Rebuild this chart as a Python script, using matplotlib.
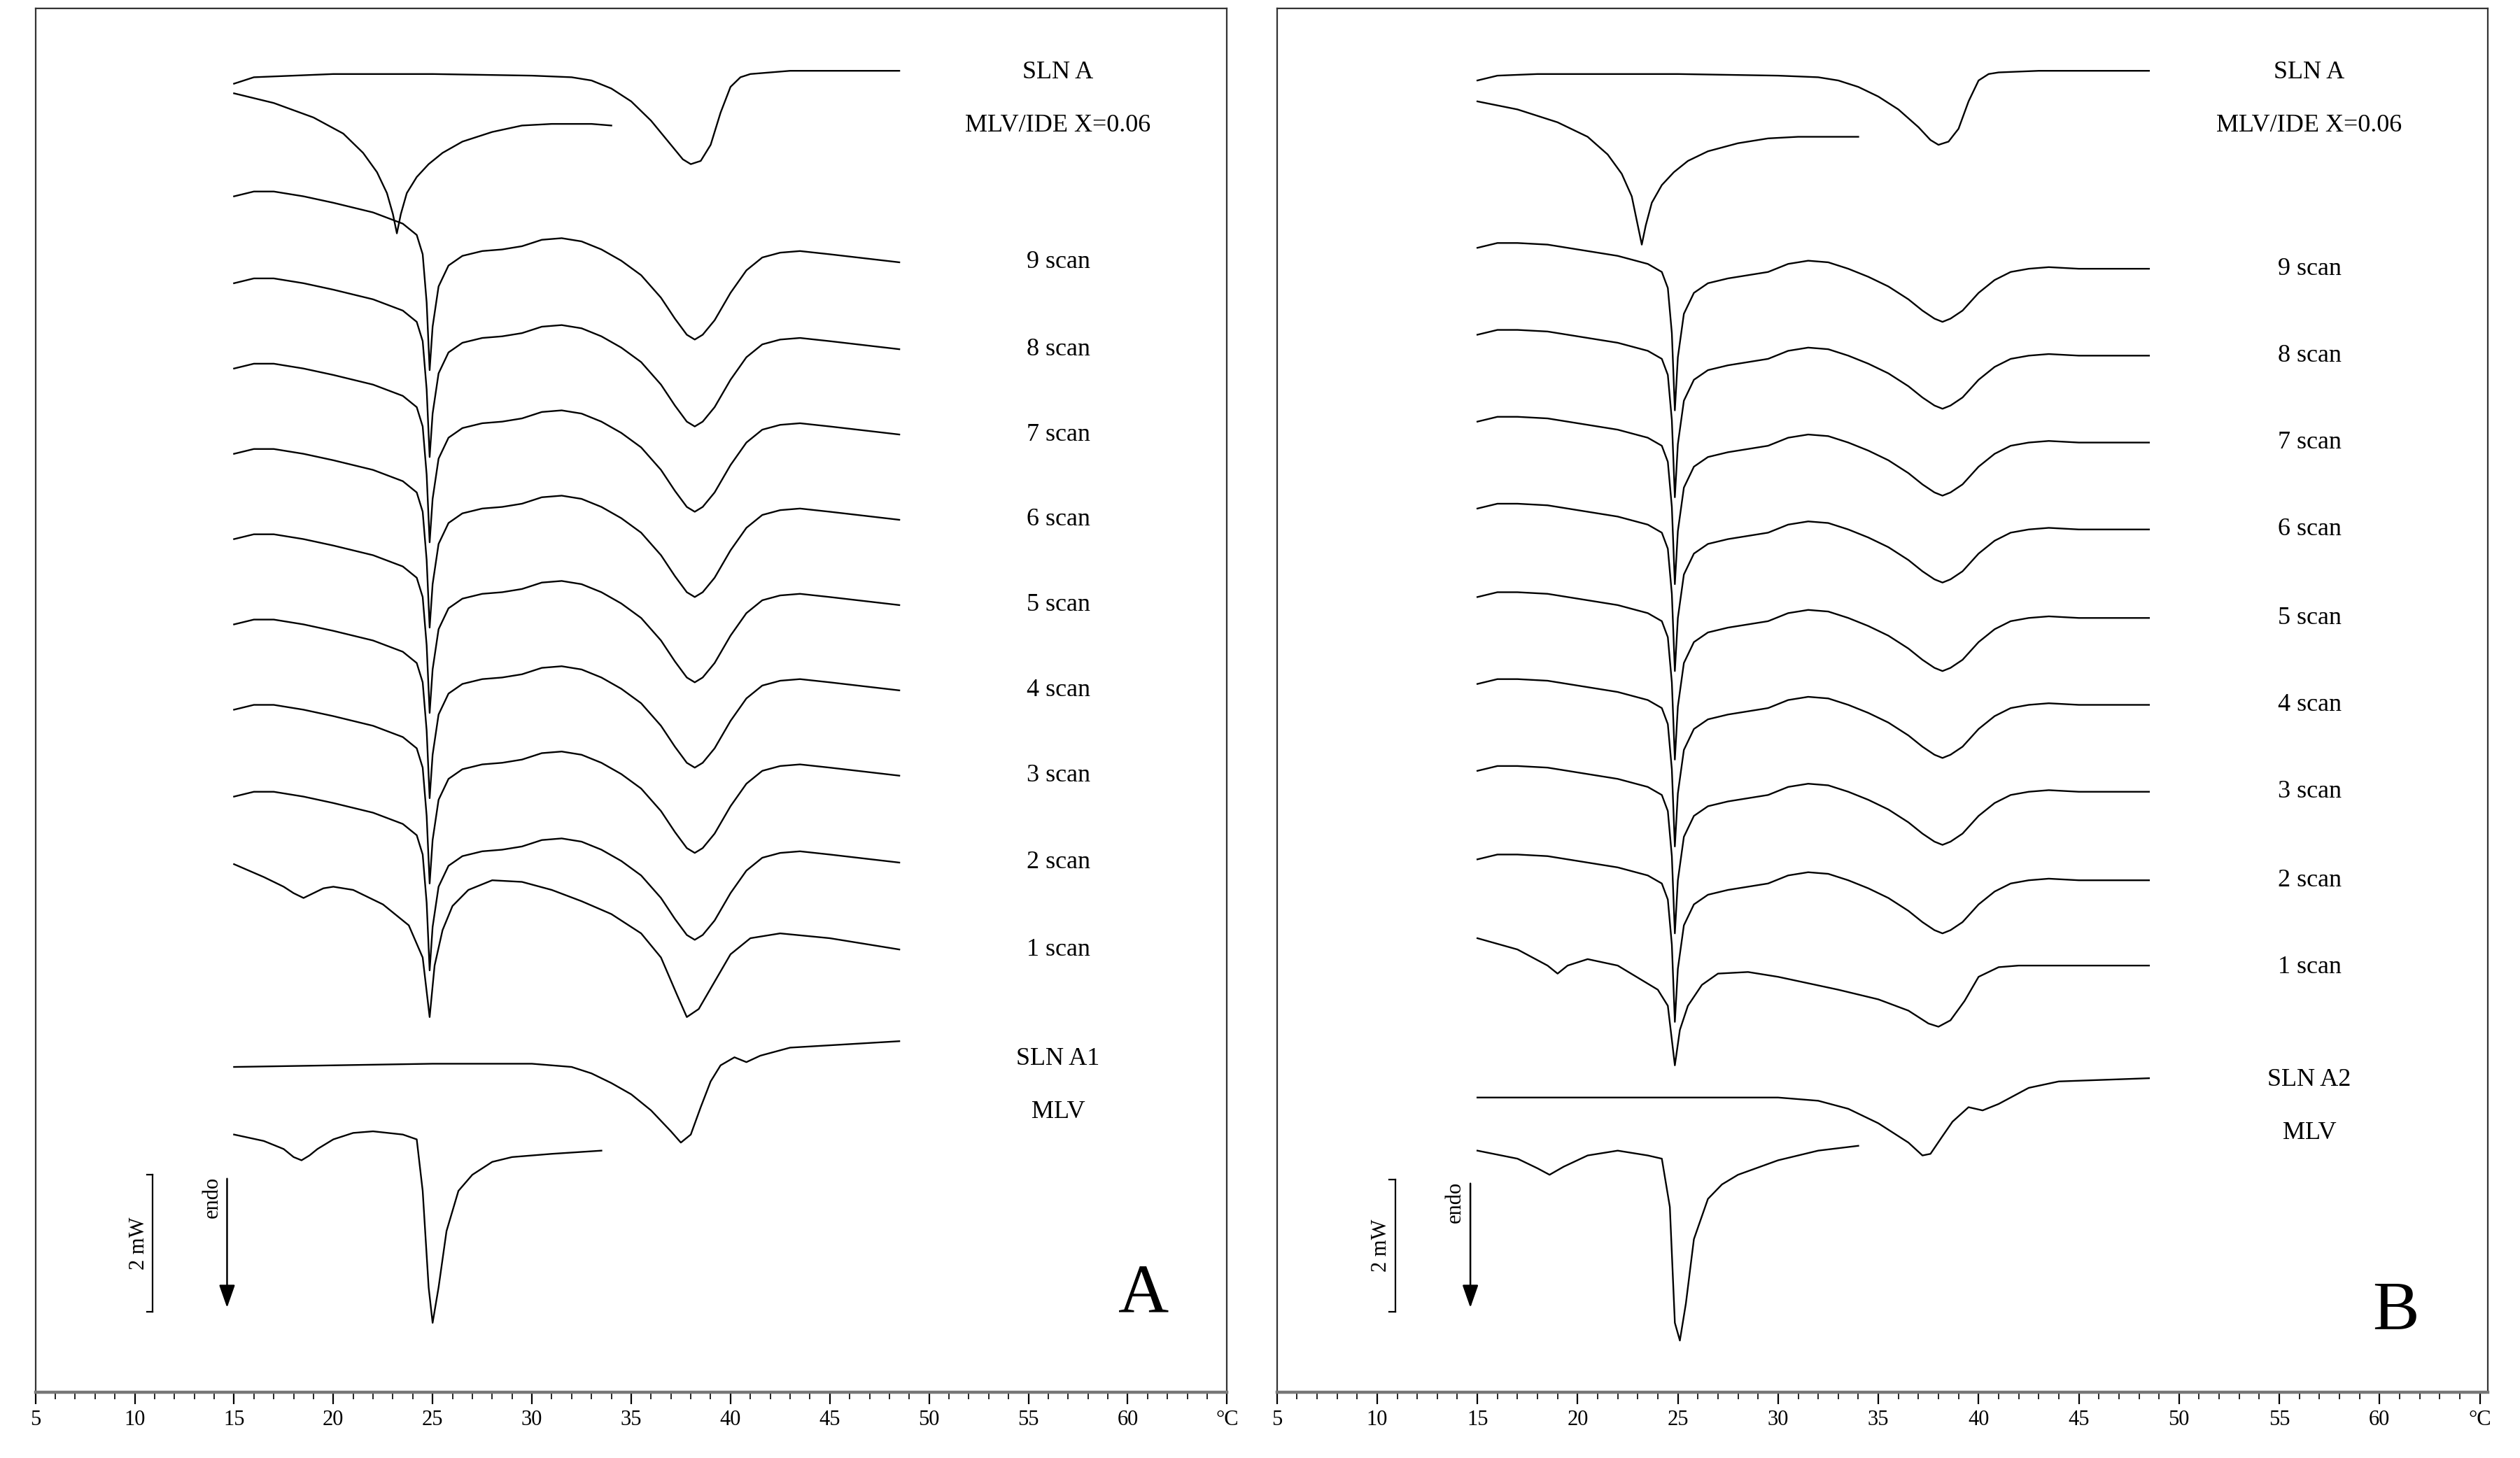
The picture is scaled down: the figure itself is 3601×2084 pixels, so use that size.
import matplotlib
matplotlib.use("Agg")
import matplotlib.pyplot as plt
import numpy as np

plt.rcParams['font.family'] = ['Liberation Serif', 'DejaVu Serif']

# ---- data (x in degC, y in picture units, increasing downward) ----
scan_x = [15, 16, 17, 18.5, 20, 22, 23.5, 24.2, 24.5, 24.7, 24.85, 25.0, 25.3, 25.8, 26.5, 27.5, 28.5, 29.5, 30.5, 31.5, 32.5, 33.5, 34.5, 35.5, 36.5, 37.2, 37.8, 38.2, 38.6, 39.2, 40, 40.8, 41.6, 42.5, 43.5, 45, 48.5]
scanA_dy = [-41, -44, -44, -41, -37, -31, -24, -17, -5, 25, 67, 40, 15, 2, -4, -7, -8, -10, -14, -15, -13, -8, -1, 8, 22, 35, 45, 48, 45, 36, 19, 5, -3, -6, -7, -5, 0]
scanB_dy = [-13, -16, -16, -15, -12, -8, -3, 2, 12, 40, 88, 55, 28, 15, 9, 6, 4, 2, -3, -5, -4, 0, 5, 11, 19, 26, 31, 33, 31, 26, 15, 7, 2, 0, -1, 0, 0]
scan_labels = ['9 scan', '8 scan', '7 scan', '6 scan', '5 scan', '4 scan', '3 scan', '2 scan']
scanA_level = [163, 217, 270, 323, 376, 429, 482, 536]
scanB_level = [167, 221, 275, 329, 384, 438, 492, 547]

# scan 1 curves
scan1A_x = [15, 16.5, 17.5, 18, 18.5, 19, 19.5, 20, 21, 22.5, 23.8, 24.5, 24.85, 25.1, 25.5, 26, 26.8, 28, 29.5, 31, 32.5, 34, 35.5, 36.5, 37.3, 37.8, 38.4, 39.2, 40, 41, 42.5, 45, 48.5]
scan1A_y = [537, 545, 551, 555, 558, 555, 552, 551, 553, 562, 575, 595, 632, 600, 578, 563, 553, 547, 548, 553, 560, 568, 580, 595, 618, 632, 627, 610, 593, 583, 580, 583, 590]
scan1B_x = [15, 17, 18.5, 19, 19.5, 20.5, 22, 24, 24.5, 24.85, 25.1, 25.5, 26.2, 27, 28.5, 30, 33, 35, 36.5, 37.5, 38, 38.6, 39.3, 40, 41, 42, 48.5]
scan1B_y = [583, 590, 600, 605, 600, 596, 600, 615, 625, 662, 640, 625, 612, 605, 604, 607, 615, 621, 628, 636, 638, 634, 622, 607, 601, 600, 600]

# top: SLN A and MLV/IDE X=0.06
slnA_x = [15, 16, 18, 20, 25, 30, 32, 33, 34, 35, 36, 37, 37.6, 38, 38.5, 39, 39.5, 40, 40.5, 41, 43, 48.5]
slnA_yA = [52, 48, 47, 46, 46, 47, 48, 50, 55, 63, 75, 90, 99, 102, 100, 90, 70, 54, 48, 46, 44, 44]
slnA_yB = [50, 47, 46, 46, 46, 47, 48, 50, 54, 60, 68, 79, 87, 90, 88, 80, 63, 50, 46, 45, 44, 44]
ide_x = [15, 17, 19, 20.5, 21.5, 22.2, 22.7, 23.0, 23.2, 23.4, 23.7, 24.2, 24.8, 25.5, 26.5, 28, 29.5, 31, 33, 34]
ide_yA = [58, 64, 73, 83, 95, 107, 120, 133, 145, 133, 120, 110, 102, 95, 88, 82, 78, 77, 77, 78]
ide_yB = [63, 68, 76, 85, 96, 108, 122, 140, 152, 140, 126, 115, 107, 100, 94, 89, 86, 85, 85, 85]

# bottom: SLN A1/A2 and MLV
slnA1_x = [15, 20, 25, 30, 32, 33, 34, 35, 36, 37, 37.5, 38, 38.5, 39, 39.5, 40.2, 40.8, 41.5, 43, 48.5]
slnA1_y = [663, 662, 661, 661, 663, 667, 673, 680, 690, 703, 710, 705, 688, 672, 662, 657, 660, 656, 651, 647]
slnA2_x = [15, 20, 25, 30, 32, 33.5, 35, 36.5, 37.2, 37.6, 38.2, 38.7, 39.5, 40.2, 41, 42.5, 44, 48.5]
slnA2_y = [682, 682, 682, 682, 684, 689, 698, 710, 718, 717, 706, 697, 688, 690, 686, 676, 672, 670]
mlvA_x = [15, 16.5, 17.5, 18, 18.4, 18.8, 19.2, 20, 21, 22, 23.5, 24.2, 24.5, 24.8, 25.0, 25.3, 25.7, 26.3, 27, 28, 29, 31, 33.5]
mlvA_y = [705, 709, 714, 719, 721, 718, 714, 708, 704, 703, 705, 708, 740, 800, 822, 800, 765, 740, 730, 722, 719, 717, 715]
mlvB_x = [15, 17, 18, 18.6, 19.3, 20.5, 22, 23.5, 24.2, 24.6, 24.85, 25.1, 25.4, 25.8, 26.5, 27.2, 28, 30, 32, 34]
mlvB_y = [715, 720, 726, 730, 725, 718, 715, 718, 720, 750, 822, 833, 810, 770, 745, 736, 730, 721, 715, 712]

ticks_major = [5, 10, 15, 20, 25, 30, 35, 40, 45, 50, 55, 60, 65]
tick_labels = ['5', '10', '15', '20', '25', '30', '35', '40', '45', '50', '55', '60', '°C']

W, H = 3601, 2084
fig = plt.figure(figsize=(W / 200, H / 200), dpi=200)
DW, DH = 1565.0, 906.0


def make_ax(x0, x1, xmax):
    ax = fig.add_axes([x0 / DW, 1 - 865 / DH, (x1 - x0) / DW, (865 - 5) / DH])
    ax.set_xlim(5, xmax)
    ax.set_ylim(865, 5)
    ax.set_yticks([])
    for s in ax.spines.values():
        s.set_linewidth(0.8)
        s.set_color('#333333')
    ax.spines['bottom'].set_linewidth(1.6)
    ax.spines['bottom'].set_color('#777777')
    ax.set_xticks(ticks_major)
    ax.set_xticklabels(tick_labels, fontsize=11)
    ax.set_xticks(np.arange(5, 66, 1), minor=True)
    ax.tick_params(axis='x', which='major', length=6, width=0.8, pad=3)
    ax.tick_params(axis='x', which='minor', length=3.5, width=0.6)
    return ax


lw = 0.85
fs = 13
axA = make_ax(22, 762, 65.0)
axB = make_ax(793, 1545, 65.4)

for ax, sdy, levels, s1x, s1y, sly, idy, slnx, slny, mx, my, bname, letter, ly in [
    (axA, scanA_dy, scanA_level, scan1A_x, scan1A_y, slnA_yA, ide_yA, slnA1_x, slnA1_y, mlvA_x, mlvA_y, 'SLN A1', 'A', 590),
    (axB, scanB_dy, scanB_level, scan1B_x, scan1B_y, slnA_yB, ide_yB, slnA2_x, slnA2_y, mlvB_x, mlvB_y, 'SLN A2', 'B', 601),
]:
    lx = 56.5
    ax.plot(slnA_x, sly, color='k', lw=lw)
    ax.plot(ide_x, idy, color='k', lw=lw)
    for lab, lev in zip(scan_labels, levels):
        ax.plot(scan_x, [lev + d for d in sdy], color='k', lw=lw)
        ax.text(lx, lev, lab, ha='center', va='center', fontsize=fs)
    ax.plot(s1x, s1y, color='k', lw=lw)
    ax.text(lx, ly, '1 scan', ha='center', va='center', fontsize=fs)
    ax.plot(slnx, slny, color='k', lw=lw)
    ax.plot(mx, my, color='k', lw=lw)
    ax.text(lx, 45, 'SLN A', ha='center', va='center', fontsize=fs)
    ax.text(lx, 78, 'MLV/IDE X=0.06', ha='center', va='center', fontsize=fs)
    yb = 658 if letter == 'A' else 671
    ax.text(lx, yb, bname, ha='center', va='center', fontsize=fs)
    ax.text(lx, yb + 33, 'MLV', ha='center', va='center', fontsize=fs)
    # scale bar
    y0, y1 = (730, 815) if letter == 'A' else (733, 815)
    ax.plot([10.9, 10.9], [y0, y1], color='k', lw=0.8)
    ax.plot([10.6, 10.9], [y0, y0], color='k', lw=0.8)
    ax.plot([10.6, 10.9], [y1, y1], color='k', lw=0.8)
    ax.text(10.2, (y0 + y1) / 2, '2 mW', rotation=90, ha='center', va='center', fontsize=11)
    ax.annotate('', xy=(14.65, y1), xytext=(14.65, y0),
                arrowprops=dict(arrowstyle='-|>,head_width=0.35,head_length=1.0', color='k', lw=0.9))
    ax.text(13.9, y0 + 14, 'endo', rotation=90, ha='center', va='center', fontsize=11)
    ax.text(60.8, 805 if letter == 'A' else 815, letter, ha='center', va='center', fontsize=36)

fig.savefig('out.png', dpi=200)
